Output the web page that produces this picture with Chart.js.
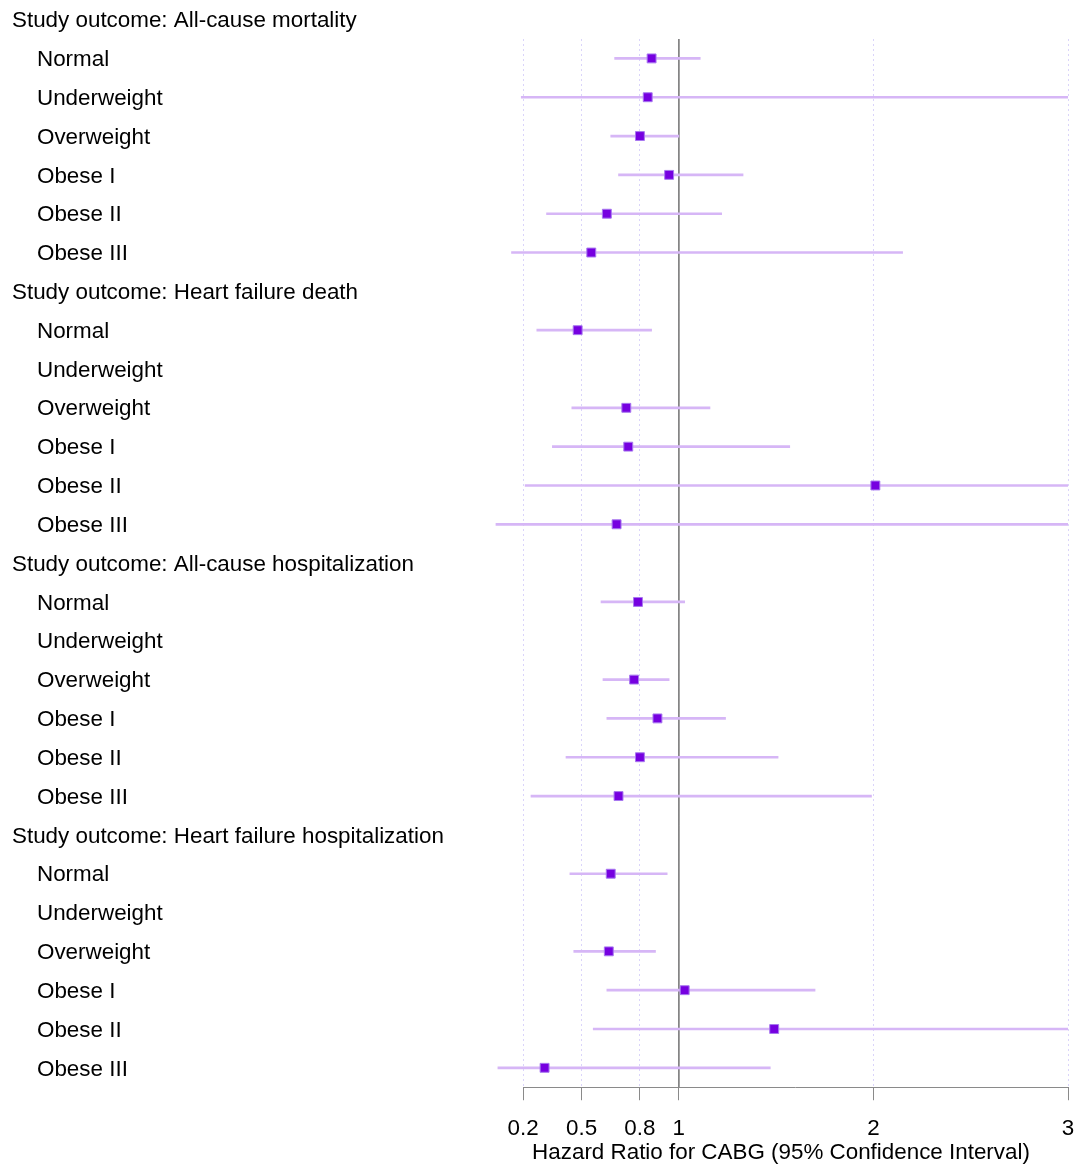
<!DOCTYPE html>
<html>
<head>
<meta charset="utf-8">
<script src="https://cdn.jsdelivr.net/npm/chart.js@4/dist/chart.umd.min.js"></script>
<style>
  html, body { margin: 0; padding: 0; background: #ffffff; }
  #wrap { position: relative; width: 1077px; height: 1166px; }
</style>
</head>
<body>
<div id="wrap"><canvas id="c"></canvas></div>
<script>
// ---- Data ----
const outcomes = ['All-cause mortality', 'Heart failure death', 'All-cause hospitalization', 'Heart failure hospitalization'];
const bmiGroups = ['Normal', 'Underweight', 'Overweight', 'Obese I', 'Obese II', 'Obese III'];

// Hazard ratios, one row per BMI group, in outcome order (null = not estimated)
const hazardRatio = [
  0.86, 0.84, 0.80, 0.95, 0.63, 0.55,
  0.48, null, 0.73, 0.74, 2.01, 0.68,
  0.79, null, 0.77, 0.89, 0.80, 0.69,
  0.65, null, 0.64, 1.03, 1.49, 0.31
];
const ciLower = [
  0.67, 0.19, 0.65, 0.69, 0.32, 0.14,
  0.27, null, 0.45, 0.35, 0.21, 0.06,
  0.60, null, 0.61, 0.63, 0.42, 0.24,
  0.44, null, 0.46, 0.63, 0.56, 0.07
];
const ciUpper = [
  1.11, 3.00, 1.00, 1.33, 1.22, 2.15,
  0.86, null, 1.16, 1.57, 3.00, 3.00,
  1.03, null, 0.95, 1.24, 1.51, 1.99,
  0.94, null, 0.88, 1.70, 3.00, 1.47
];
const xTickValues = [0.2, 0.5, 0.8, 1, 2, 3];
const referenceHR = 1;

// ---- Build rows: each outcome header followed by its BMI groups ----
const rows = [];
outcomes.forEach((o, oi) => {
  rows.push({ text: 'Study outcome: ' + o, header: true });
  bmiGroups.forEach((g, gi) => {
    rows.push({ text: g, header: false, idx: oi * bmiGroups.length + gi });
  });
});
const ciData = [], hrData = [];
rows.forEach((r, ri) => {
  if (r.header) return;
  const k = r.idx;
  if (hazardRatio[k] === null) return;
  ciData.push({ x: [ciLower[k], ciUpper[k]], y: ri });
  hrData.push({ x: hazardRatio[k], y: ri });
});
const nRows = rows.length;
const FONT = '"Liberation Sans", Arial, Helvetica, sans-serif';
const FONT_SIZE = 22.4;

const rowLabelPlugin = {
  id: 'rowLabels',
  afterDraw(chart) {
    const ctx = chart.ctx;
    const ys = chart.scales.y;
    ctx.save();
    ctx.font = FONT_SIZE + 'px ' + FONT;
    ctx.fillStyle = '#000000';
    ctx.textAlign = 'left';
    ctx.textBaseline = 'middle';
    rows.forEach((r, ri) => {
      ctx.fillText(r.text, r.header ? 12 : 37, ys.getPixelForValue(ri) + 1.5);
    });
    ctx.restore();
  }
};
const axisLinePlugin = {
  id: 'axisLine',
  afterDraw(chart) {
    const ctx = chart.ctx;
    const xs = chart.scales.x;
    const y = Math.round(chart.chartArea.bottom) + 0.5;
    ctx.save();
    ctx.strokeStyle = '#8a8a8a';
    ctx.lineWidth = 1;
    ctx.beginPath();
    ctx.moveTo(xs.getPixelForValue(xTickValues[0]), y);
    ctx.lineTo(xs.getPixelForValue(xTickValues[xTickValues.length - 1]), y);
    ctx.stroke();
    ctx.restore();
  }
};

new Chart(document.getElementById('c'), {
  type: 'bar',
  data: {
    datasets: [
      {
        type: 'line',
        data: [{ x: referenceHR, y: 0.5 }, { x: referenceHR, y: nRows - 0.5 }],
        borderColor: '#808080',
        borderWidth: 1,
        pointRadius: 0,
        order: 3
      },
      {
        type: 'bar',
        data: ciData,
        backgroundColor: '#D6B6F6',
        borderWidth: 0,
        barThickness: 2,
        order: 2
      },
      {
        type: 'scatter',
        data: hrData,
        pointStyle: 'rect',
        pointRadius: 6.3,
        backgroundColor: '#7600E0',
        borderColor: '#A878F0',
        borderWidth: 1,
        order: 1
      }
    ]
  },
  options: {
    indexAxis: 'y',
    responsive: true,
    maintainAspectRatio: false,
    animation: false,
    events: [],
    layout: { padding: { left: 494, right: 9, top: 39, bottom: 0 } },
    plugins: { legend: { display: false }, tooltip: { enabled: false } },
    scales: {
      x: {
        type: 'linear',
        min: 0.05,
        max: 3,
        afterBuildTicks(scale) { scale.ticks = xTickValues.map(v => ({ value: v })); },
        afterFit(scale) { scale.paddingLeft = 0; scale.paddingRight = 0; },
        ticks: {
          autoSkip: false,
          maxRotation: 0,
          padding: 15,
          color: '#000000',
          font: { family: FONT, size: FONT_SIZE },
          callback: v => String(v)
        },
        grid: {
          color: '#DAD4FA',
          lineWidth: 1,
          drawTicks: true,
          tickLength: 13,
          tickColor: '#8a8a8a',
          tickWidth: 1
        },
        border: { display: false, dash: [2, 3] },
        title: {
          display: true,
          text: 'Hazard Ratio for CABG (95% Confidence Interval)',
          color: '#000000',
          font: { family: FONT, size: FONT_SIZE },
          padding: { top: -18, bottom: 0 }
        }
      },
      y: {
        type: 'linear',
        reverse: true,
        offset: false,
        min: 0.5,
        max: nRows - 0.5,
        display: false,
        grid: { display: false, offset: false }
      }
    }
  },
  plugins: [rowLabelPlugin, axisLinePlugin]
});
</script>
</body>
</html>
